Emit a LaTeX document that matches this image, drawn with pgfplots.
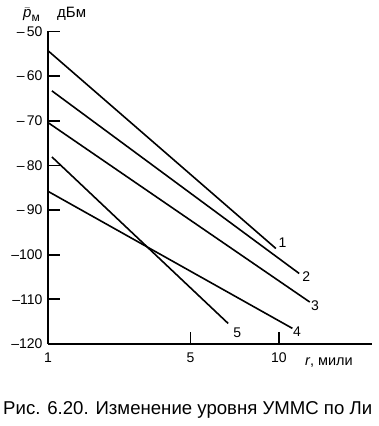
\documentclass[border=0pt]{standalone}
\usepackage{pgfplots}
\pgfplotsset{compat=1.18}
\usepackage{fontspec}
\setmainfont{Liberation Sans}
\begin{document}
\begin{tikzpicture}[x=1pt,y=1pt]
\useasboundingbox (0,0) rectangle (378,426);
\begin{axis}[at={(48pt,82pt)}, anchor=south west, scale only axis,
  width=324pt, height=312.5pt,
  xmode=log, xmin=1, xmax=25.3, ymin=-120, ymax=-50,
  axis x line*=bottom, axis y line*=left,
  axis line style={line width=1.8pt},
  tick align=inside, major tick length=12pt,
  every tick/.style={line width=1.8pt, black},
  xtick={1,4.14,10}, xticklabels={1,5,10}, minor xtick={},
  ytick={-120,-110,-100,-90,-80,-70,-60,-50},
  yticklabels={–120,–110,–100,–\,90,–\,80,–\,70,–\,60,–\,50},
  /pgf/number format/assume math mode=true,
  tick label style={font=\fontsize{14}{16}\selectfont},
  xticklabel style={yshift=-5pt},
  yticklabel style={xshift=-2pt},
  clip=false,
]
\addplot[black, line width=1.6pt] coordinates {(1,-54.3) (9.70,-98.6)};
\addplot[black, line width=1.6pt] coordinates {(1.04,-63.3) (12.24,-104.2)};
\addplot[black, line width=1.6pt] coordinates {(1,-70.4) (13.6,-110.6)};
\addplot[black, line width=1.6pt] coordinates {(1,-85.8) (11.44,-116.5)};
\addplot[black, line width=1.6pt] coordinates {(1.04,-78.1) (6.03,-115.4)};
\node[font=\fontsize{14}{16}\selectfont] at (axis cs:10.36,-97.4) {1};
\node[font=\fontsize{14}{16}\selectfont] at (axis cs:13.15,-104.8) {2};
\node[font=\fontsize{14}{16}\selectfont] at (axis cs:14.32,-111.5) {3};
\node[font=\fontsize{14}{16}\selectfont] at (axis cs:11.97,-117.3) {4};
\node[font=\fontsize{14}{16}\selectfont] at (axis cs:6.61,-117.4) {5};
\end{axis}
\node[anchor=base west, font=\fontsize{15}{17}\selectfont, inner sep=0] at (23,408) {$\bar{\mbox{\itshape p}}_{\mbox{\fontsize{12}{13}\selectfont м}}$};
\node[anchor=base west, font=\fontsize{15}{17}\selectfont, inner sep=0] at (57,408) {дБм};
\node[anchor=base west, font=\fontsize{14.5}{17}\selectfont, inner sep=0] at (305,60) {\textit{r}, мили};
\node[anchor=base west, font=\fontsize{18.6}{21}\selectfont, inner sep=0] at (3,12) {Рис. 6.20. Изменение уровня УММС по Ли};
\end{tikzpicture}
\end{document}
